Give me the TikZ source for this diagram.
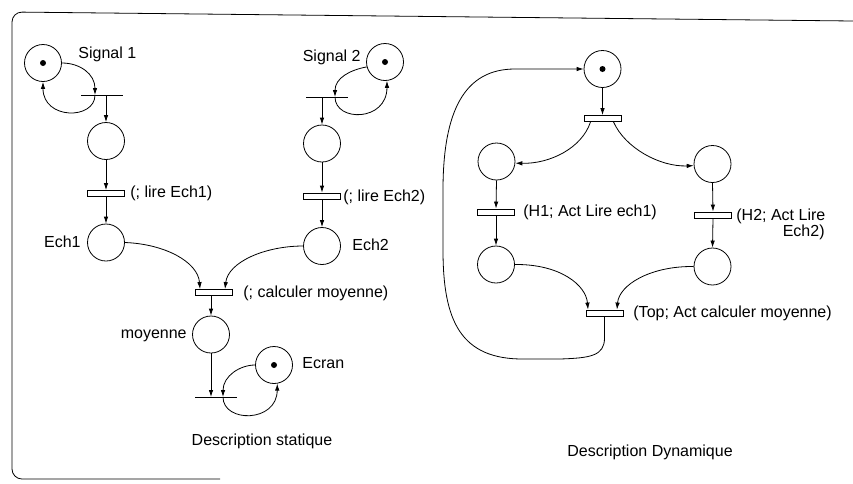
\documentclass[tikz,border=0pt]{standalone}
\usepackage{fontspec}
\setmainfont{Liberation Sans}
\usetikzlibrary{arrows.meta}
\begin{document}
\begin{tikzpicture}[x=1pt,y=-1pt, line width=0.8pt,
 place/.style={circle,draw,minimum size=37pt,inner sep=0pt},
 tok/.style={circle,fill,inner sep=0pt,minimum size=6pt},
 tbar/.style={draw,fill=white,rectangle,minimum width=37pt,minimum height=6pt,inner sep=0pt},
 tline/.style={fill=black,rectangle,minimum width=42pt,minimum height=0.9pt,inner sep=0pt},
 lbl/.style={font=\fontsize{16}{17}\selectfont,inner sep=0pt},
 arr/.style={-{Latex[length=7pt,width=4.5pt]}}]
\useasboundingbox (0,0) rectangle (853,483);
% frame
\draw[rounded corners=10pt] (853,21) -- (12,12) -- (12,479) -- (220,479);

% ---------- Description statique ----------
\node[place] (s1) at (43,63) {};
\node[tok] (s1t) at (s1) {};
\node[lbl,anchor=west] (s1l) at (78,54) {Signal 1};
\node[tline] (t1) at (102,95) {};
\coordinate (t1a) at (95,95);
\draw[arr] (s1.east) .. controls (80,63) and (95,74) .. (t1a);
\draw[arr] (t1a) .. controls (95,120) and (43,120) .. (s1.south);
\node[place] (p1) at (106,141) {};
\draw[arr] (t1.center -| p1) -- (p1.north);
\node[tbar] (b1) at (106,193.5) {};
\node[lbl,anchor=west] (b1l) at (130,193.5) {(; lire Ech1)};
\draw[arr] (p1.south) -- (b1.north);
\node[place] (e1) at (106,242.5) {};
\node[lbl,anchor=east] (e1l) at (81,242) {Ech1};
\draw[arr] (b1.south) -- (e1.north);

\node[place] (s2) at (385,62) {};
\node[tok] (s2t) at (s2) {};
\node[lbl,anchor=east] (s2l) at (361,57) {Signal 2};
\node[tline] (t2) at (327,97) {};
\coordinate (t2a) at (335,97);
\draw[arr] (s2.195) .. controls (350,70) and (335,78) .. (t2a);
\draw[arr] (t2a) .. controls (335,122) and (387,122) .. (s2.-84);
\node[place] (p2) at (322,143.5) {};
\draw[arr] (t2.center -| p2) -- (p2.north);
\node[tbar] (b2) at (322,196) {};
\node[lbl,anchor=west] (b2l) at (343,197) {(; lire Ech2)};
\draw[arr] (p2.south) -- (b2.north);
\node[place] (e2) at (322,246) {};
\node[lbl,anchor=west] (e2l) at (352,245) {Ech2};
\draw[arr] (b2.south) -- (e2.north);

\node[tbar] (bm) at (213.5,292.5) {};
\node[lbl,anchor=west] (bml) at (243,293) {(; calculer moyenne)};
\draw[arr] (e1.east) .. controls (165,244) and (198,262) .. ([xshift=-13.5pt]bm.north);
\draw[arr] (e2.west) .. controls (265,246) and (228,262) .. ([xshift=11.5pt]bm.north);
\node[place] (mo) at (211,334.5) {};
\node[lbl,anchor=east] (mol) at (187,336) {moyenne};
\draw[arr] (bm.south -| mo) -- (mo.north);
\node[tline] (te) at (216,397) {};
\draw[arr] (mo.south) -- (te.center -| mo);
\node[place] (ec) at (274,365) {};
\node[tok] (ect) at (ec) {};
\node[lbl,anchor=west] (ecl) at (302,363) {Ecran};
\coordinate (tea) at (223,397);
\draw[arr] (ec.west) .. controls (240,365) and (223,376) .. (tea);
\draw[arr] (tea) .. controls (223,423) and (277,423) .. (ec.-80);
\node[lbl] (ds) at (262,441) {Description statique};

% ---------- Description Dynamique ----------
\node[place] (rt) at (602.5,69) {};
\node[tok] (rtt) at (rt) {};
\node[tbar] (r0) at (602.5,118.5) {};
\draw[arr] (rt.south) -- (r0.north);
\node[place] (ra) at (496.5,161.5) {};
\node[place] (rb) at (712.5,164) {};
\draw[arr] ([xshift=-12pt]r0.south) .. controls (582,148) and (550,164) .. (ra.-5);
\draw[arr] ([xshift=11pt]r0.south) .. controls (625,148) and (660,167) .. (rb.185);
\node[tbar] (rh1) at (496,212) {};
\node[lbl,anchor=west] (rh1l) at (523,212) {(H1; Act Lire ech1)};
\node[tbar] (rh2) at (713,215) {};
\node[lbl,anchor=west] (rh2l) at (736,216) {(H2; Act Lire};
\node[lbl,anchor=east] (rh2m) at (825,232) {Ech2)};
\node[place] (rc) at (496,264.5) {};
\node[place] (rd) at (712.5,266.5) {};
\draw[arr] (ra.south) -- (rh1.north);
\draw[arr] (rh1.south) -- (rc.north);
\draw[arr] (rb.south) -- (rh2.north);
\draw[arr] (rh2.south) -- (rd.north);
\node[tbar] (rm) at (604.5,313) {};
\node[lbl,anchor=west] (rml) at (633,313) {(Top; Act calculer moyenne)};
\draw[arr] (rc.east) .. controls (560,264) and (586,285) .. ([xshift=-16.5pt]rm.north);
\draw[arr] (rd.west) .. controls (650,266) and (619,285) .. ([xshift=12.5pt]rm.north);
\draw[arr] (rm.south) -- (604.5,338) .. controls (604.5,356) and (590,358) .. (560,359) -- (525,359)
  .. controls (460,360) and (443,320) .. (443,250) -- (443,190)
  .. controls (443,110) and (465,69) .. (515,69) -- (rt.west);
\node[lbl] (dd) at (650,452) {Description Dynamique};
\end{tikzpicture}
\end{document}
